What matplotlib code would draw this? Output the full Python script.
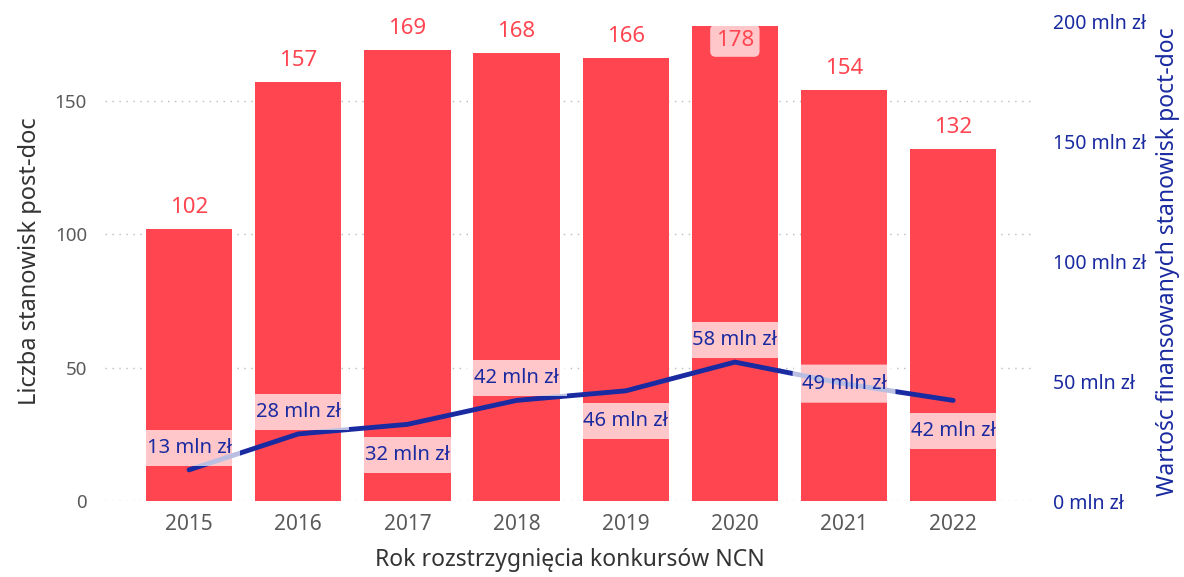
import matplotlib.pyplot as plt
import numpy as np

plt.rcParams['font.family'] = ['Noto Sans', 'DejaVu Sans']

years = ["2015", "2016", "2017", "2018", "2019", "2020", "2021", "2022"]
positions = [102, 157, 169, 168, 166, 178, 154, 132]
funding = [13, 28, 32, 42, 46, 58, 49, 42]  # mln zł
# where each funding label sits relative to the line
label_side = ["above", "above", "below", "above", "below", "above", "center", "below"]

red = "#FF4550"
blue = "#1A2AA0"
gray = "#5A5A5A"

fig = plt.figure(figsize=(11.84, 5.77), dpi=100)
ax = fig.add_axes([0.0887, 0.1317, 0.7855, 0.8302])
ax2 = ax.twinx()

x = np.arange(len(years))
ax.bar(x, positions, width=0.79, color=red, zorder=2)
ax.set_xlim(-0.77, 7.75)
ax.set_ylim(0, 179.6)
ax.set_yticks([0, 50, 100, 150])
ax.grid(axis="y", linestyle=(0, (1, 4)), color="#BBBBBB", linewidth=1, zorder=0)
ax.set_axisbelow(True)
ax.set_xticks(x)
ax.set_xticklabels(years)
ax.tick_params(axis="y", length=0, labelsize=13.5, labelcolor=gray, pad=13)
ax.tick_params(axis="x", length=0, labelsize=15, labelcolor=gray, pad=9)
ax.set_xlabel("Rok rozstrzygnięcia konkursów NCN", fontsize=16.5, color="#333333", labelpad=10)
ax.set_ylabel("Liczba stanowisk post-doc", fontsize=17, color="#333333", labelpad=9)

for i, v in enumerate(positions):
    if v > 175:
        ax.text(i, v - 1.5, str(v), ha="center", va="top", fontsize=16, color=red, zorder=5,
                bbox=dict(boxstyle="round,pad=0.25", fc="white", ec="none", alpha=0.7))
    else:
        ax.annotate(str(v), (i, v), xytext=(0, 8), textcoords="offset points",
                    ha="center", va="bottom", fontsize=16, color=red)

ax2.plot(x, funding, color=blue, linewidth=3.5, zorder=3, solid_capstyle="round")
ax2.set_ylim(0, 200)
ax2.set_yticks([0, 50, 100, 150, 200])
ax2.set_yticklabels([f"{t} mln zł" for t in [0, 50, 100, 150, 200]])
ax2.tick_params(length=0, labelsize=14, labelcolor=blue, pad=13)
ax2.set_ylabel("Wartośc finansowanych stanowisk poct-doc", fontsize=16.5, color=blue, labelpad=7)

for i, v in enumerate(funding):
    side = label_side[i]
    if side == "above":
        off, bs = 16, "square,pad=0.4"
    elif side == "below":
        off, bs = -22, "square,pad=0.4"
    else:
        off, bs = 0, "round,pad=0.45"
    ax2.annotate(f"{v} mln zł", (i, v), xytext=(0, off), textcoords="offset points",
                 ha="center", va="center", fontsize=14.5, color=blue, zorder=6,
                 bbox=dict(boxstyle=bs, fc="white", ec="none", alpha=0.7))

for a in (ax, ax2):
    for s in a.spines.values():
        s.set_visible(False)

ax.set_zorder(ax2.get_zorder() - 1)
ax.patch.set_visible(True)
ax2.patch.set_visible(False)

fig.savefig("out.png", dpi=100)
